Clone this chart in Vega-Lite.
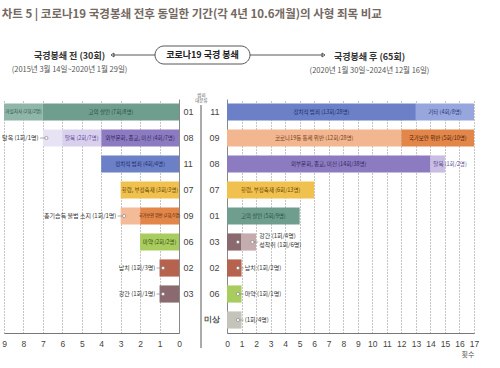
{
  "$schema": "https://vega.github.io/schema/vega-lite/v6.json",
  "background": "white",
  "padding": {"left": 1, "top": 8, "right": 4, "bottom": 4},
  "title": {"text": "차트 5 | 코로나19 국경봉쇄 전후 동일한 기간(각 4년 10.6개월)의 사형 죄목 비교", "anchor": "start", "font": "Noto Sans CJK KR", "fontSize": 11.5, "fontWeight": "bold", "color": "#74685f", "offset": 24},
  "datasets": {
    "left": [
      {"cat": "01", "k": 1, "seg": "고의 살인", "n": 7, "label": "고의 살인 (7회/8명)"},
      {"cat": "01", "k": 2, "seg": "과실치사", "n": 2, "label": "과실치사 (2회/2명)"},
      {"cat": "08", "k": 1, "seg": "외부문화, 종교, 미신", "n": 4, "label": "외부문화, 종교, 미신 (4회/7명)"},
      {"cat": "08", "k": 2, "seg": "탈북", "n": 2, "label": "탈북 (2회/7명)"},
      {"cat": "08", "k": 3, "seg": "탈옥", "n": 1, "label": "탈옥 (1회/1명)"},
      {"cat": "11", "k": 1, "seg": "정치적 범죄", "n": 4, "label": "정치적 범죄 (4회/4명)"},
      {"cat": "07", "k": 1, "seg": "횡령, 부정축재", "n": 3, "label": "횡령, 부정축재 (3회/3명)"},
      {"cat": "09", "k": 1, "seg": "국가보안 위반", "n": 2, "label": "국가보안 위반 (2회/5명)"},
      {"cat": "09", "k": 2, "seg": "총기습득 불법 소지", "n": 1, "label": "총기습득 불법 소지 (1회/1명)"},
      {"cat": "06", "k": 1, "seg": "마약", "n": 2, "label": "마약 (2회/2명)"},
      {"cat": "02", "k": 1, "seg": "납치", "n": 1, "label": "납치 (1회/3명)"},
      {"cat": "03", "k": 1, "seg": "강간", "n": 1, "label": "강간 (1회/1명)"}
    ],
    "right": [
      {"cat": "11", "k": 1, "seg": "정치적 범죄", "n": 13, "label": "정치적 범죄 (13회/28명)"},
      {"cat": "11", "k": 2, "seg": "기타", "n": 4, "label": "기타 (4회/8명)"},
      {"cat": "09", "k": 1, "seg": "코로나19등 통제 위반", "n": 12, "label": "코로나19등 통제 위반 (12회/28명)"},
      {"cat": "09", "k": 2, "seg": "국가보안 위반", "n": 5, "label": "국가보안 위반 (5회/10명)"},
      {"cat": "08", "k": 1, "seg": "외부문화, 종교, 미신", "n": 14, "label": "외부문화, 종교, 미신 (14회/38명)"},
      {"cat": "08", "k": 2, "seg": "탈북", "n": 1, "label": "탈북 (1회/2명)"},
      {"cat": "07", "k": 1, "seg": "횡령, 부정축재", "n": 6, "label": "횡령, 부정축재 (6회/13명)"},
      {"cat": "01", "k": 1, "seg": "고의 살인", "n": 5, "label": "고의 살인 (5회/9명)"},
      {"cat": "03", "k": 1, "seg": "강간", "n": 1, "label": "강간 (1회/4명)"},
      {"cat": "03", "k": 2, "seg": "성착취", "n": 1, "label": "성착취 (1회/6명)"},
      {"cat": "02", "k": 1, "seg": "납치", "n": 1, "label": "납치 (1회/2명)"},
      {"cat": "06", "k": 1, "seg": "마약", "n": 1, "label": "마약 (1회/1명)"},
      {"cat": "미상", "k": 1, "seg": "미상", "n": 1, "label": "(1회/4명)"}
    ]
  },
  "bounds": "flush",
  "spacing": 48,
  "hconcat": [
    {
      "width": 175,
      "height": 234,
      "data": {"name": "left"},
      "title": {"text": "국경봉쇄 전 (30회)", "subtitle": "(2015년 3월 14일~2020년 1월 29일)", "frame": "group", "anchor": "middle", "dx": -22, "offset": -29, "font": "Noto Sans CJK KR", "fontSize": 9, "fontWeight": "bold", "color": "#333333", "subtitleFont": "Noto Sans CJK KR", "subtitleFontSize": 7.5, "subtitleColor": "#555555", "subtitlePadding": 5},
      "transform": [
        {"stack": "n", "groupby": ["cat"], "sort": [{"field": "k"}], "as": ["x0", "x1"]},
        {"calculate": "datum.n < 1.5 && datum.seg != '탈북'", "as": "out"},
        {"joinaggregate": [{"op": "max", "field": "x1", "as": "rowEnd"}], "groupby": ["cat"]},
        {"calculate": "(datum.x0 + datum.x1) / 2", "as": "mid"},
        {"calculate": "datum.x1 - 0.18", "as": "cx"},
        {"calculate": "datum.rowEnd + 0.15", "as": "lx"},
        {"calculate": "datum.rowEnd + 0.22", "as": "tx"}
      ],
      "encoding": {
        "y": {"field": "cat", "type": "nominal", "title": null,
          "scale": {"domain": ["01", "08", "11", "07", "09", "06", "02", "03", "-"], "paddingInner": 0.34, "paddingOuter": 0.17},
          "axis": {"orient": "right", "domain": true, "domainColor": "#888888", "ticks": false, "labelAlign": "left", "labelPadding": 4, "labelFontSize": 9, "labelColor": "#444444", "labelExpr": "datum.value == '-' ? '' : datum.value", "grid": false}}
      },
      "resolve": {"scale": {"color": "independent"}},
      "layer": [
        {
          "mark": {"type": "bar"},
          "encoding": {
            "x": {"field": "x0", "type": "quantitative", "title": null,
              "scale": {"domain": [0, 9], "reverse": true, "nice": false},
              "axis": {"values": [0, 1, 2, 3, 4, 5, 6, 7, 8, 9]}},
            "x2": {"field": "x1"},
            "color": {"field": "seg", "type": "nominal", "legend": null,
              "scale": {"domain": ["고의 살인", "과실치사", "외부문화, 종교, 미신", "탈북", "탈옥", "정치적 범죄", "기타", "횡령, 부정축재", "국가보안 위반", "총기습득 불법 소지", "코로나19등 통제 위반", "마약", "납치", "강간", "성착취", "미상"],
                "range": ["#6f9d8e", "#8fb6a8", "#8c7bc0", "#d9d0ee", "#e8e3f4", "#6b80c6", "#97a6dc", "#f0c14f", "#e2864a", "#f4bb98", "#f2b690", "#a9cc5f", "#b6624e", "#8b6a6f", "#c4acaf", "#c4c4bb"]}}
          }
        },
        {
          "transform": [{"filter": "!datum.out"}],
          "mark": {"type": "text", "font": "Noto Sans CJK KR"},
          "encoding": {
            "x": {"field": "mid", "type": "quantitative", "title": null, "axis": {"values": [0, 1, 2, 3, 4, 5, 6, 7, 8, 9]}},
            "text": {"field": "label"},
            "size": {"condition": [{"test": "datum.seg == '과실치사'", "value": 4.6}, {"test": "datum.seg == '국가보안 위반'", "value": 4.2}], "value": 5.5},
            "color": {"field": "seg", "type": "nominal", "legend": null,
              "scale": {"domain": ["고의 살인", "과실치사", "외부문화, 종교, 미신", "탈북", "탈옥", "정치적 범죄", "기타", "횡령, 부정축재", "국가보안 위반", "총기습득 불법 소지", "코로나19등 통제 위반", "마약", "납치", "강간", "성착취", "미상"],
                "range": ["#274f43", "#274f43", "#33265f", "#5a4a93", "#5a4a93", "#1f2c68", "#26357a", "#5f4200", "#4f2206", "#7a4020", "#743d1c", "#34500f", "#333333", "#333333", "#333333", "#333333"]}}
          }
        },
        {
          "transform": [{"filter": "datum.out"}],
          "mark": {"type": "rule", "color": "#888888", "strokeWidth": 0.7},
          "encoding": {"x": {"field": "cx", "type": "quantitative", "title": null, "axis": {"values": [0, 1, 2, 3, 4, 5, 6, 7, 8, 9]}}, "x2": {"field": "lx"}}
        },
        {
          "transform": [{"filter": "datum.out"}],
          "mark": {"type": "point", "shape": "circle", "filled": true, "fill": "white", "stroke": "#888888", "strokeWidth": 0.7, "size": 10, "opacity": 1},
          "encoding": {"x": {"field": "cx", "type": "quantitative", "title": null, "axis": {"values": [0, 1, 2, 3, 4, 5, 6, 7, 8, 9]}}}
        },
        {
          "transform": [{"filter": "datum.out"}],
          "mark": {"type": "text", "align": "right", "font": "Noto Sans CJK KR", "fontSize": 6, "color": "#333333"},
          "encoding": {"x": {"field": "tx", "type": "quantitative", "title": null, "axis": {"values": [0, 1, 2, 3, 4, 5, 6, 7, 8, 9]}}, "text": {"field": "label"}}
        },
        {
          "transform": [{"filter": "datum.cat == '01' && datum.k == 1"}],
          "mark": {"type": "point", "shape": "M -0.15 -0.66 L 0.62 -0.66 A 0.09 0.09 0 0 1 0.62 -0.48 L -0.15 -0.48 A 0.09 0.09 0 0 1 -0.15 -0.66 Z M -0.24 -0.57 L -0.66 -0.57 M -0.68 -0.57 L -0.65 -0.59 L -0.65 -0.55 Z M 0.71 -0.57 L 1.44 -0.57 M 1.46 -0.57 L 1.43 -0.59 L 1.43 -0.55 Z M 0.22 -0.07 L 0.22 2.36", "size": 40000, "filled": true, "fill": "white", "stroke": "#444444", "strokeWidth": 0.9, "opacity": 1},
          "encoding": {"x": {"datum": 0, "type": "quantitative", "title": null, "axis": {"values": [0, 1, 2, 3, 4, 5, 6, 7, 8, 9]}}}
        },
        {
          "transform": [{"filter": "datum.cat == '01' && datum.k == 1"}],
          "mark": {"type": "text", "text": "코로나19 국경 봉쇄", "dx": 23.5, "dy": -57, "font": "Noto Sans CJK KR", "fontSize": 9, "fontWeight": "bold", "color": "#222222"},
          "encoding": {"x": {"datum": 0, "type": "quantitative", "title": null, "axis": {"values": [0, 1, 2, 3, 4, 5, 6, 7, 8, 9]}}}
        }
      ]
    },
    {
      "width": 247,
      "height": 234,
      "data": {"name": "right"},
      "title": {"text": "국경봉쇄 후 (65회)", "subtitle": "(2020년 1월 30일~2024년 12월 16일)", "frame": "group", "anchor": "middle", "dx": 19, "offset": 18, "font": "Noto Sans CJK KR", "fontSize": 9, "fontWeight": "bold", "color": "#333333", "subtitleFont": "Noto Sans CJK KR", "subtitleFontSize": 7.5, "subtitleColor": "#555555", "subtitlePadding": 5},
      "transform": [
        {"stack": "n", "groupby": ["cat"], "sort": [{"field": "k"}], "as": ["x0", "x1"]},
        {"calculate": "datum.n < 1.5 && datum.seg != '탈북'", "as": "out"},
        {"calculate": "datum.out ? 1 : 0", "as": "outN"},
        {"joinaggregate": [{"op": "max", "field": "x1", "as": "rowEnd"}, {"op": "sum", "field": "outN", "as": "nout"}], "groupby": ["cat"]},
        {"window": [{"op": "sum", "field": "outN", "as": "oi"}], "groupby": ["cat"], "sort": [{"field": "k"}], "frame": [null, 0]},
        {"calculate": "(datum.x0 + datum.x1) / 2", "as": "mid"},
        {"calculate": "datum.x0 + 0.2", "as": "sx"},
        {"calculate": "datum.x1 - 0.25", "as": "cx"},
        {"calculate": "datum.rowEnd + 0.15", "as": "lx"},
        {"calculate": "datum.rowEnd + 0.22", "as": "tx"}
      ],
      "encoding": {
        "y": {"field": "cat", "type": "nominal",
          "scale": {"domain": ["11", "09", "08", "07", "01", "03", "02", "06", "미상"], "paddingInner": 0.34, "paddingOuter": 0.17},
          "axis": {"orient": "left", "domain": true, "domainColor": "#888888", "ticks": false, "labelPadding": 8, "labelColor": "#444444", "labelFontWeight": {"condition": {"test": "datum.value == '미상'", "value": "bold"}, "value": "normal"}, "labelFontSize": {"condition": {"test": "datum.value == '미상'", "value": 7.5}, "value": 9}, "grid": false,
            "title": ["범죄", "대분류"], "titleAngle": 0, "titleX": -26, "titleY": -2, "titleAlign": "center", "titleBaseline": "bottom", "titleFont": "Noto Sans CJK KR", "titleFontSize": 4.5, "titleLineHeight": 5, "titleFontWeight": "normal", "titleColor": "#555555"}}
      },
      "resolve": {"scale": {"color": "independent"}},
      "layer": [
        {
          "mark": {"type": "bar"},
          "encoding": {
            "x": {"field": "x0", "type": "quantitative", "title": "횟수",
              "scale": {"domain": [0, 17], "nice": false},
              "axis": {"values": [0, 1, 2, 3, 4, 5, 6, 7, 8, 9, 10, 11, 12, 13, 14, 15, 16, 17]}},
            "x2": {"field": "x1"},
            "color": {"field": "seg", "type": "nominal", "legend": null,
              "scale": {"domain": ["고의 살인", "과실치사", "외부문화, 종교, 미신", "탈북", "탈옥", "정치적 범죄", "기타", "횡령, 부정축재", "국가보안 위반", "총기습득 불법 소지", "코로나19등 통제 위반", "마약", "납치", "강간", "성착취", "미상"],
                "range": ["#6f9d8e", "#8fb6a8", "#8c7bc0", "#c9bde3", "#e8e3f4", "#6b80c6", "#97a6dc", "#f0c14f", "#e2864a", "#f4bb98", "#f2b690", "#a9cc5f", "#b6624e", "#8b6a6f", "#c4acaf", "#c4c4bb"]}}
          }
        },
        {
          "transform": [{"filter": "!datum.out && datum.n >= 1.5"}],
          "mark": {"type": "text", "font": "Noto Sans CJK KR", "fontSize": 5.5},
          "encoding": {
            "x": {"field": "mid", "type": "quantitative", "title": "횟수", "axis": {"values": [0, 1, 2, 3, 4, 5, 6, 7, 8, 9, 10, 11, 12, 13, 14, 15, 16, 17]}},
            "text": {"field": "label"},
            "color": {"field": "seg", "type": "nominal", "legend": null,
              "scale": {"domain": ["고의 살인", "과실치사", "외부문화, 종교, 미신", "탈북", "탈옥", "정치적 범죄", "기타", "횡령, 부정축재", "국가보안 위반", "총기습득 불법 소지", "코로나19등 통제 위반", "마약", "납치", "강간", "성착취", "미상"],
                "range": ["#274f43", "#274f43", "#33265f", "#5a4a93", "#5a4a93", "#1f2c68", "#26357a", "#5f4200", "#4f2206", "#7a4020", "#743d1c", "#34500f", "#333333", "#333333", "#333333", "#333333"]}}
          }
        },
        {
          "transform": [{"filter": "!datum.out && datum.n < 1.5"}],
          "mark": {"type": "text", "align": "left", "font": "Noto Sans CJK KR", "fontSize": 5.5, "color": "#5a4a93"},
          "encoding": {"x": {"field": "sx", "type": "quantitative", "title": "횟수", "axis": {"values": [0, 1, 2, 3, 4, 5, 6, 7, 8, 9, 10, 11, 12, 13, 14, 15, 16, 17]}}, "text": {"field": "label"}}
        },
        {
          "transform": [{"filter": "datum.out && !(datum.nout == 2 && datum.oi == 1)"}],
          "mark": {"type": "rule", "color": "#888888", "strokeWidth": 0.7},
          "encoding": {"x": {"field": "cx", "type": "quantitative", "title": "횟수", "axis": {"values": [0, 1, 2, 3, 4, 5, 6, 7, 8, 9, 10, 11, 12, 13, 14, 15, 16, 17]}}, "x2": {"field": "lx"}}
        },
        {
          "transform": [{"filter": "datum.out"}],
          "mark": {"type": "point", "shape": "circle", "filled": true, "fill": "white", "stroke": "#888888", "strokeWidth": 0.7, "size": 10, "opacity": 1},
          "encoding": {"x": {"field": "cx", "type": "quantitative", "title": "횟수", "axis": {"values": [0, 1, 2, 3, 4, 5, 6, 7, 8, 9, 10, 11, 12, 13, 14, 15, 16, 17]}}}
        },
        {
          "transform": [{"filter": "datum.out && datum.nout == 1"}],
          "mark": {"type": "text", "align": "left", "font": "Noto Sans CJK KR", "fontSize": 6, "color": "#333333"},
          "encoding": {"x": {"field": "tx", "type": "quantitative", "title": "횟수", "axis": {"values": [0, 1, 2, 3, 4, 5, 6, 7, 8, 9, 10, 11, 12, 13, 14, 15, 16, 17]}}, "text": {"field": "label"}}
        },
        {
          "transform": [{"filter": "datum.out && datum.nout == 2 && datum.oi == 1"}],
          "mark": {"type": "text", "align": "left", "dy": -6, "font": "Noto Sans CJK KR", "fontSize": 6, "color": "#333333"},
          "encoding": {"x": {"field": "tx", "type": "quantitative", "title": "횟수", "axis": {"values": [0, 1, 2, 3, 4, 5, 6, 7, 8, 9, 10, 11, 12, 13, 14, 15, 16, 17]}}, "text": {"field": "label"}}
        },
        {
          "transform": [{"filter": "datum.out && datum.nout == 2 && datum.oi == 2"}],
          "mark": {"type": "text", "align": "left", "dy": 3, "font": "Noto Sans CJK KR", "fontSize": 6, "color": "#333333"},
          "encoding": {"x": {"field": "tx", "type": "quantitative", "title": "횟수", "axis": {"values": [0, 1, 2, 3, 4, 5, 6, 7, 8, 9, 10, 11, 12, 13, 14, 15, 16, 17]}}, "text": {"field": "label"}}
        }
      ]
    }
  ],
  "config": {
    "view": {"stroke": null},
    "font": "Noto Sans CJK KR",
    "axis": {"labelFont": "Liberation Sans", "domainWidth": 1},
    "axisX": {"grid": false, "ticks": true, "tickSize": -234, "tickDash": [1, 2], "tickColor": "#8a8a8a", "tickWidth": 1, "domainColor": "#777777", "labelPadding": 240, "labelFontSize": 8.5, "labelColor": "#444444", "labelOverlap": false, "labelFlush": false, "titleAnchor": "end", "titleFont": "Noto Sans CJK KR", "titleFontSize": 7, "titleFontWeight": "normal", "titleColor": "#555555", "titlePadding": 3}
  }
}
